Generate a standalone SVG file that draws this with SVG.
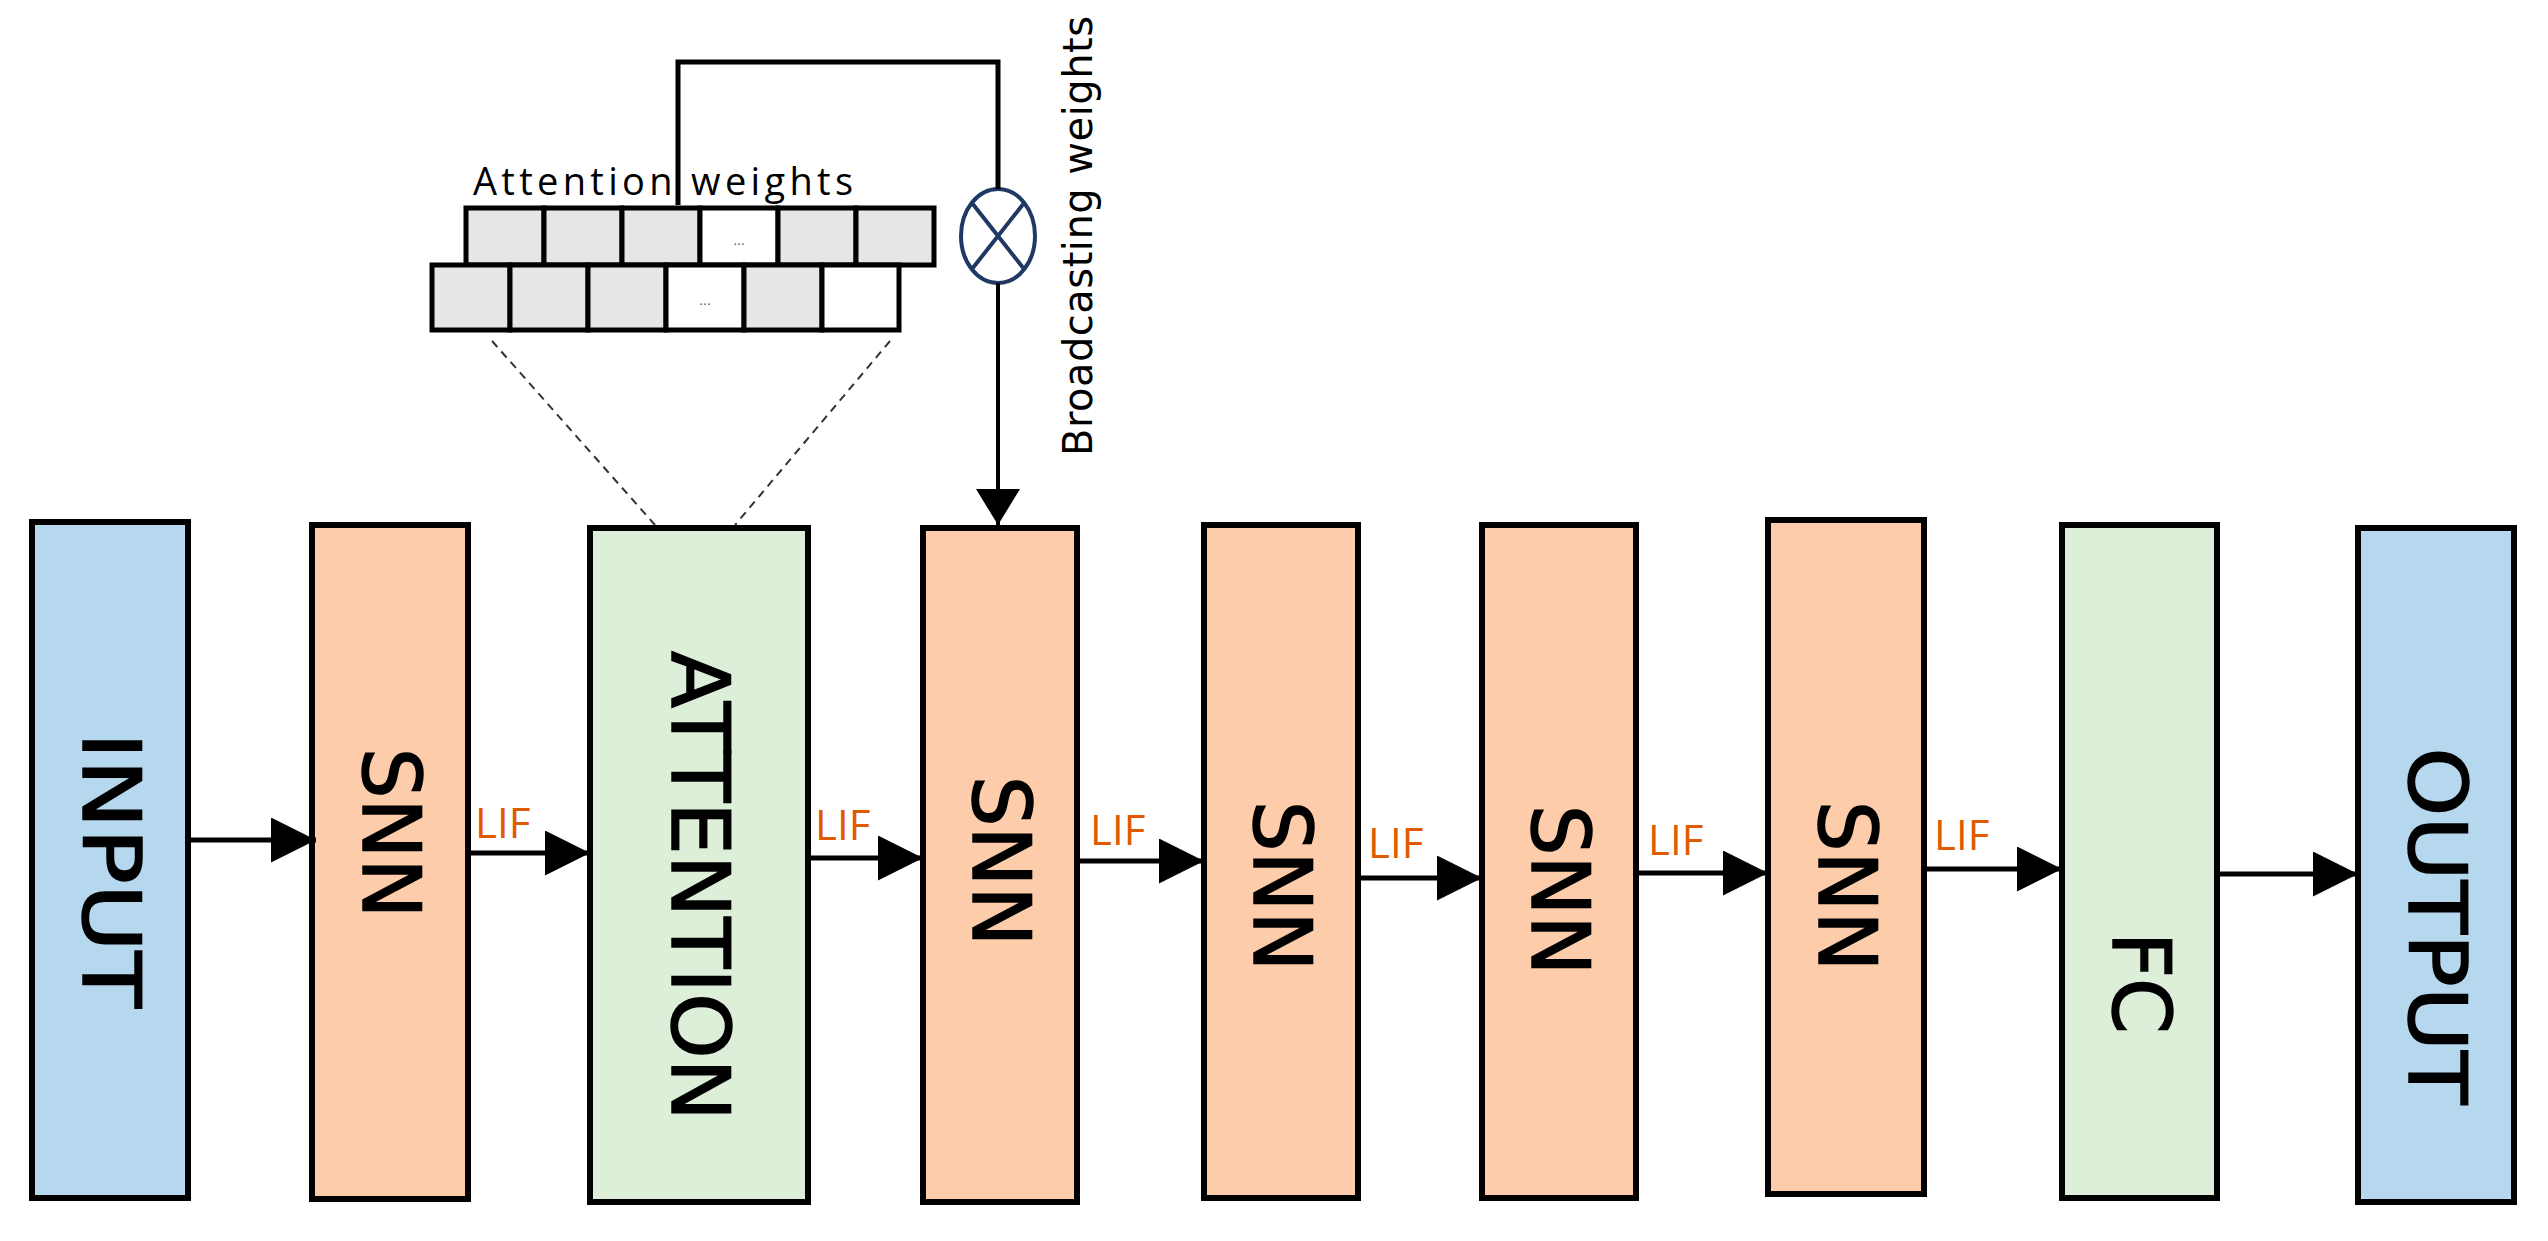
<svg xmlns="http://www.w3.org/2000/svg" width="2548" height="1241" viewBox="0 0 2548 1241">
<defs>
<style>
.box{stroke:#000;stroke-width:6}
.blue{fill:#B6D8EF}.or{fill:#FDCCAA}.gr{fill:#DDEFD9}
.lbl{font-family:"DejaVu Sans",sans-serif;font-size:80px;fill:#000;text-anchor:middle;dominant-baseline:central;stroke:#000;stroke-width:1.5}
.lif{font-family:"Open Sans","Noto Sans",sans-serif;font-size:42px;fill:#E05A00}
.cn{stroke:#000;stroke-width:5;fill:none}
.cell{fill:#E6E6E6;stroke:#000;stroke-width:5}
.w{fill:#fff}
</style>
<marker id="ah" viewBox="0 0 10 10" refX="10" refY="5" markerWidth="36" markerHeight="44" markerUnits="userSpaceOnUse" orient="auto" preserveAspectRatio="none"><path d="M0,0L10,5L0,10z" fill="#000"/></marker>
<marker id="a" viewBox="0 0 10 10" refX="10" refY="5" markerWidth="9" markerHeight="9" orient="auto"><path d="M0,0L10,5L0,10z" fill="#000"/></marker>
</defs>
<g id="input"><rect class="box blue" x="32" y="522" width="156" height="676"/><text class="lbl" transform="translate(110,870) rotate(90)" textLength="276" lengthAdjust="spacingAndGlyphs">INPUT</text></g>
<g id="snn1"><rect class="box or" x="312" y="525" width="156" height="674"/><text class="lbl" transform="translate(390,833) rotate(90)">SNN</text></g>
<g id="attention"><rect class="box gr" x="590" y="528" width="218" height="674"/><text class="lbl" transform="translate(699,886) rotate(90)" textLength="470" lengthAdjust="spacingAndGlyphs">ATTENTION</text></g>
<g id="snn2"><rect class="box or" x="923" y="528" width="154" height="674"/><text class="lbl" transform="translate(1000,861) rotate(90)">SNN</text></g>
<g id="snn3"><rect class="box or" x="1204" y="525" width="154" height="673"/><text class="lbl" transform="translate(1281,886) rotate(90)">SNN</text></g>
<g id="snn4"><rect class="box or" x="1482" y="525" width="154" height="673"/><text class="lbl" transform="translate(1559,890) rotate(90)">SNN</text></g>
<g id="snn5"><rect class="box or" x="1768" y="520" width="156" height="674"/><text class="lbl" transform="translate(1846,886) rotate(90)">SNN</text></g>
<g id="fc"><rect class="box gr" x="2062" y="525" width="155" height="673"/><text class="lbl" transform="translate(2140,983) rotate(90)">FC</text></g>
<g id="output"><rect class="box blue" x="2358" y="528" width="156" height="674"/><text class="lbl" transform="translate(2436,926) rotate(90)" textLength="357" lengthAdjust="spacingAndGlyphs">OUTPUT</text></g>
<g id="weights">
<rect class="cell" x="466" y="208" width="78" height="57"/><rect class="cell" x="544" y="208" width="78" height="57"/><rect class="cell" x="622" y="208" width="78" height="57"/><rect class="cell w" x="700" y="208" width="78" height="57"/><rect class="cell" x="778" y="208" width="78" height="57"/><rect class="cell" x="856" y="208" width="78" height="57"/>
<rect class="cell" x="432" y="265" width="78" height="65"/><rect class="cell" x="510" y="265" width="78" height="65"/><rect class="cell" x="588" y="265" width="78" height="65"/><rect class="cell w" x="666" y="265" width="78" height="65"/><rect class="cell" x="744" y="265" width="78" height="65"/><rect class="cell w" x="822" y="265" width="77" height="65"/>
<text x="739" y="245" font-family="Liberation Sans,sans-serif" font-size="14" text-anchor="middle" fill="#555">...</text>
<text x="705" y="305" font-family="Liberation Sans,sans-serif" font-size="14" text-anchor="middle" fill="#555">...</text>
<text x="473" y="195" font-family="Open Sans,Noto Sans,sans-serif" font-size="38" textLength="380" fill="#000">Attention weights</text>
</g>
<g id="mult"><ellipse cx="998" cy="236" rx="37" ry="47" fill="#fff" stroke="#1F3864" stroke-width="4"/><path d="M972,203L1024,269M1024,203L972,269" stroke="#1F3864" stroke-width="4"/></g>
<text x="0" y="0" transform="translate(1092,236) rotate(-90)" font-family="DejaVu Sans,sans-serif" font-size="40" text-anchor="middle" textLength="440" fill="#000">Broadcasting weights</text>
<g id="connectors">
<path class="cn" d="M678,205V62H998V189"/>
<path d="M998,283V525" stroke="#000" stroke-width="4" fill="none" marker-end="url(#ah)"/>
<path d="M492,341L655,525M890,341L735,525" stroke="#333" stroke-width="2" stroke-dasharray="8,6" fill="none"/>
<path class="cn" d="M188,840H316" marker-end="url(#a)"/>
<path class="cn" d="M468,853H590" marker-end="url(#a)"/>
<path class="cn" d="M808,858H923" marker-end="url(#a)"/>
<path class="cn" d="M1077,861H1204" marker-end="url(#a)"/>
<path class="cn" d="M1358,878H1482" marker-end="url(#a)"/>
<path class="cn" d="M1636,873H1768" marker-end="url(#a)"/>
<path class="cn" d="M1924,869H2062" marker-end="url(#a)"/>
<path class="cn" d="M2217,874H2358" marker-end="url(#a)"/>
<text class="lif" x="475" y="838">LIF</text>
<text class="lif" x="815" y="840">LIF</text>
<text class="lif" x="1090" y="845">LIF</text>
<text class="lif" x="1368" y="858">LIF</text>
<text class="lif" x="1648" y="855">LIF</text>
<text class="lif" x="1934" y="850">LIF</text>
</g>
</svg>
